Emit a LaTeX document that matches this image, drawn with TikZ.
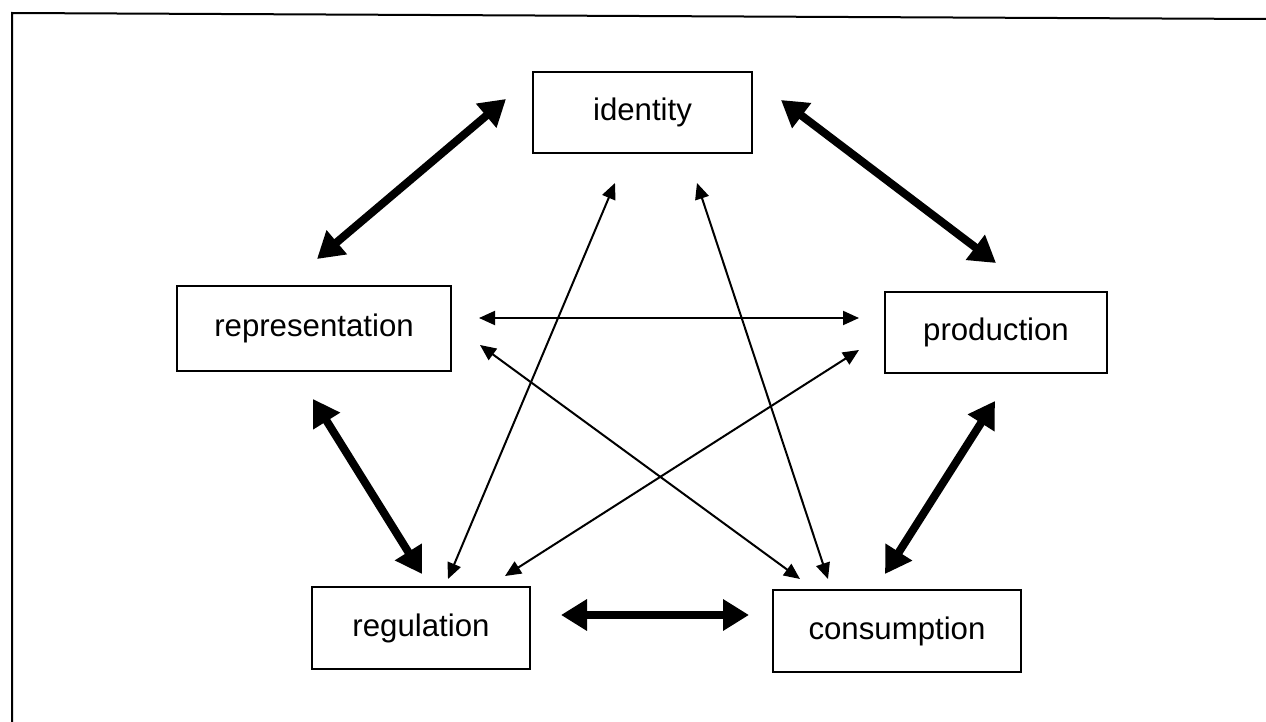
\documentclass[tikz,border=0pt]{standalone}
\usepackage{fontspec}
\setmainfont{Liberation Sans}
\usetikzlibrary{arrows.meta,calc}
\tikzstyle{concept}=[rectangle, draw=black, line width=1pt, inner sep=0pt, font=\fontsize{15.6}{18}\selectfont]
\tikzstyle{strong}=[line width=4pt, {Triangle[length=13pt,width=15pt]}-{Triangle[length=13pt,width=15pt]}]
\tikzstyle{weak}=[line width=1pt, {Triangle[length=8pt,width=7pt]}-{Triangle[length=8pt,width=7pt]}]

\begin{document}
\begin{tikzpicture}[x=0.5pt, y=-0.5pt]
    \useasboundingbox (0,0) rectangle (1266,722);
    % frame
    \draw[line width=1pt] (12,722) -- (12,13) -- (1266,19);

    \node (ident) [concept, minimum width=109.5pt, minimum height=40.5pt] at (642.5,112.5) {identity};
    \node (rep) [concept, minimum width=137pt, minimum height=42.5pt] at (314,328.5) {representation};
    \node (prod) [concept, minimum width=111pt, minimum height=40.5pt] at (996,332.5) {production};
    \node (reg) [concept, minimum width=109pt, minimum height=41pt] at (421,628) {regulation};
    \node (cons) [concept, minimum width=124pt, minimum height=41pt] at (897,631) {consumption};

    % outer ring
    \draw[strong] ($(ident.west)+(-26,-13.5)$) -- ($(rep.north)+(3,-26)$);
    \draw[strong] ($(ident.east)+(28,-12.5)$) -- ($(prod.north)+(0,-28)$);
    \draw[strong] ($(rep.south)+(-1,27)$) -- ($(reg.north)+(1,-12)$);
    \draw[strong] ($(prod.south)+(-1,27)$) -- ($(cons.north)+(-12,-15)$);
    \draw[strong] ($(reg.east)+(30,-13)$) -- ($(cons.west)+(-23,-16)$);

    % inner star
    \draw[weak] ($(rep.east)+(27,-10.5)$) -- ($(prod.west)+(-25,-14.5)$);
    \draw[weak] ($(rep.east)+(28,16.5)$) -- ($(cons.north)+(-97,-10)$);
    \draw[weak] ($(prod.west)+(-25,17.5)$) -- ($(reg.north)+(84,-10)$);
    \draw[weak] ($(ident.south)+(-27.5,29)$) -- ($(reg.north)+(27,-7)$);
    \draw[weak] ($(ident.south)+(54.5,29)$) -- ($(cons.north)+(-69,-10)$);
\end{tikzpicture}
\end{document}
